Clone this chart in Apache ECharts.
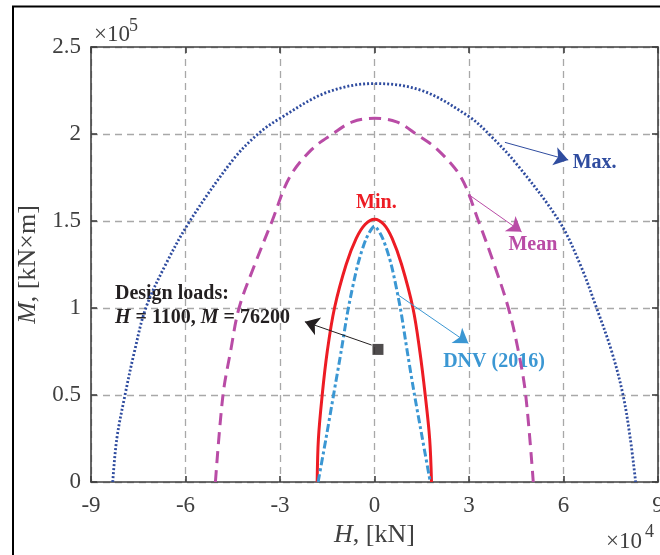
<!DOCTYPE html>
<html>
<head>
    <meta charset="utf-8">
    <title>H-M envelope</title>
    <script src="https://cdn.jsdelivr.net/npm/echarts@6/dist/echarts.min.js"></script>
    <style>
        html, body { margin: 0; padding: 0; background: #fff; }
        #chart { width: 660px; height: 555px; }
    </style>
</head>
<body>
    <div id="chart"></div>
    <script type="text/javascript">
        // values: H in 10^4 kN, M in 10^5 kN*m
        const maxH = [-8.31, -8.18, -7.92, -7.62, -7.26, -6.63, -5.86, -4.5, -3.7, -3.0, -1.5, 0, 1.5, 3.0, 3.63, 4.5, 5.86, 6.53, 7.05, 7.53, 7.89, 8.12, 8.29];
        const maxM = [0, 0.25, 0.5, 0.75, 1.0, 1.25, 1.5, 1.85, 2.0, 2.09, 2.24, 2.29, 2.25, 2.10, 2.0, 1.83, 1.5, 1.25, 1.0, 0.75, 0.5, 0.25, 0];

        const meanH = [-5.05, -4.81, -4.57, -4.3, -3.8, -3.25, -2.7, -2.0, -1.33, -0.7, 0, 0.7, 1.32, 2.0, 2.75, 3.3, 3.8, 4.25, 4.57, 4.8, 5.04];
        const meanM = [0, 0.5, 0.75, 1.0, 1.25, 1.5, 1.75, 1.91, 2.0, 2.07, 2.09, 2.07, 2.0, 1.91, 1.75, 1.5, 1.25, 1.0, 0.75, 0.5, 0];

        const minH = [-1.82, -1.78, -1.66, -1.50, -1.27, -0.90, -0.58, -0.3, 0, 0.3, 0.56, 0.86, 1.22, 1.44, 1.61, 1.75, 1.81];
        const minM = [0, 0.25, 0.5, 0.75, 1.0, 1.25, 1.4, 1.48, 1.51, 1.48, 1.4, 1.25, 1.0, 0.75, 0.5, 0.25, 0];

        const dnvH = [-1.79, -1.54, -1.30, -1.06, -0.83, -0.53, -0.26, 0, 0.26, 0.53, 0.82, 1.04, 1.27, 1.52, 1.77];
        const dnvM = [0, 0.25, 0.5, 0.75, 1.0, 1.25, 1.4, 1.47, 1.4, 1.25, 1.0, 0.75, 0.5, 0.25, 0];

        // design loads H = 1100 kN, M = 76200 kN*m
        const designH = [0.11];
        const designM = [0.762];

        const xTicks = [-9, -6, -3, 0, 3, 6, 9];
        const yTicks = [0, 0.5, 1, 1.5, 2, 2.5];

        const zip = (a, b) => a.map((v, i) => [v, b[i]]);

        const serif = '"Liberation Serif", "Times New Roman", serif';
        const axisColor = '#404040';
        const cMax = '#2f4c9f';
        const cMean = '#b94ca6';
        const cMin = '#ed1c24';
        const cDnv = '#3b97d3';

        const chart = echarts.init(document.getElementById('chart'), null, { renderer: 'canvas' });

        const gridLine = { show: true, lineStyle: { color: '#a8a8a8', width: 1.3, type: [7, 5] } };

        function arrow(color, from, to) {
            return {
                silent: true,
                symbol: ['none', 'arrow'],
                symbolSize: 14,
                label: { show: false },
                lineStyle: { color: color, width: 1, type: 'solid' },
                emphasis: { disabled: true },
                data: [[{ coord: from }, { coord: to }]]
            };
        }

        const valueAxisX = {
            type: 'value',
            min: xTicks[0],
            max: xTicks[xTicks.length - 1],
            interval: 3,
            axisLine: { show: true, onZero: false, lineStyle: { color: axisColor, width: 1.6 } },
            axisTick: { show: true, inside: true, length: 6, lineStyle: { color: axisColor, width: 1.6 } }
        };
        const valueAxisY = {
            type: 'value',
            min: yTicks[0],
            max: yTicks[yTicks.length - 1],
            interval: 0.5,
            axisLine: { show: true, onZero: false, lineStyle: { color: axisColor, width: 1.6 } },
            axisTick: { show: true, inside: true, length: 6, lineStyle: { color: axisColor, width: 1.6 } }
        };

        const option = {
            animation: false,
            backgroundColor: '#fff',
            grid: { left: 91, right: 2, top: 47, bottom: 73, containLabel: false, outerBoundsMode: 'none' },
            xAxis: [
                Object.assign({}, valueAxisX, {
                    position: 'bottom',
                    splitLine: gridLine,
                    axisLabel: { color: axisColor, fontFamily: serif, fontSize: 23, margin: 12 },
                    name: '{i|H}, [kN]',
                    nameLocation: 'middle',
                    nameGap: 40,
                    nameTextStyle: {
                        color: axisColor, fontFamily: serif, fontSize: 26,
                        rich: { i: { fontStyle: 'italic', color: axisColor, fontFamily: serif, fontSize: 26 } }
                    }
                }),
                Object.assign({}, valueAxisX, {
                    position: 'top',
                    splitLine: { show: false },
                    axisLabel: { show: false }
                })
            ],
            yAxis: [
                Object.assign({}, valueAxisY, {
                    position: 'left',
                    splitLine: gridLine,
                    axisLabel: { color: axisColor, fontFamily: serif, fontSize: 23, margin: 10 },
                    name: '{i|M}, [kN×m]',
                    nameLocation: 'middle',
                    nameGap: 34,
                    nameTextStyle: {
                        color: axisColor, fontFamily: serif, fontSize: 26,
                        rich: { i: { fontStyle: 'italic', color: axisColor, fontFamily: serif, fontSize: 26 } }
                    }
                }),
                Object.assign({}, valueAxisY, {
                    position: 'right',
                    splitLine: { show: false },
                    axisLabel: { show: false }
                })
            ],
            series: [
                {
                    name: 'Max.',
                    type: 'line',
                    data: zip(maxH, maxM),
                    smooth: 0.35,
                    showSymbol: false,
                    lineStyle: { color: cMax, width: 2.8, type: [2, 2] },
                    markLine: arrow(cMax, [4.14, 1.952], [6.15, 1.851])
                },
                {
                    name: 'Mean',
                    type: 'line',
                    data: zip(meanH, meanM),
                    smooth: 0.35,
                    showSymbol: false,
                    lineStyle: { color: cMean, width: 3, type: [12, 7] },
                    markLine: arrow(cMean, [2.98, 1.653], [4.67, 1.438])
                },
                {
                    name: 'Min.',
                    type: 'line',
                    data: zip(minH, minM),
                    smooth: 0.35,
                    showSymbol: false,
                    lineStyle: { color: cMin, width: 3 }
                },
                {
                    name: 'DNV (2016)',
                    type: 'line',
                    data: zip(dnvH, dnvM),
                    smooth: 0.25,
                    showSymbol: false,
                    lineStyle: { color: cDnv, width: 3, type: [8, 3, 3, 3] },
                    markLine: arrow(cDnv, [0.75, 1.075], [2.98, 0.797])
                },
                {
                    name: 'Design loads',
                    type: 'scatter',
                    data: zip(designH, designM),
                    symbol: 'rect',
                    symbolSize: 11,
                    itemStyle: { color: '#231f20' },
                    markLine: arrow('#231f20', [-0.09, 0.787], [-2.21, 0.921])
                }
            ]
        };
        chart.setOption(option);

        // annotation texts, anchored in data coordinates
        const px = (x, y) => chart.convertToPixel({ gridIndex: 0 }, [x, y]);
        const boldFont = 'bold 20px ' + serif;
        function label(text, pos, color, align, rich) {
            const p = px(pos[0], pos[1]);
            return {
                type: 'text', x: p[0], y: p[1], silent: true,
                style: { text: text, font: boldFont, fill: color, align: align || 'left', verticalAlign: 'middle', rich: rich }
            };
        }

        chart.setOption({
            graphic: [
                // outer frame of the figure
                { type: 'line', shape: { x1: 12, y1: 6.5, x2: 660, y2: 6.5 }, style: { stroke: '#000', lineWidth: 2 } },
                { type: 'line', shape: { x1: 13, y1: 6, x2: 13, y2: 555 }, style: { stroke: '#000', lineWidth: 2 } },
                // axis multipliers
                { type: 'text', x: 94, y: 35, style: { text: '×10', font: '23px ' + serif, fill: axisColor, verticalAlign: 'middle' } },
                { type: 'text', x: 129, y: 26, style: { text: '5', font: '18px ' + serif, fill: axisColor, verticalAlign: 'middle' } },
                { type: 'text', x: 606, y: 542, style: { text: '×10', font: '23px ' + serif, fill: axisColor, verticalAlign: 'middle' } },
                { type: 'text', x: 645, y: 532, style: { text: '4', font: '18px ' + serif, fill: axisColor, verticalAlign: 'middle' } },
                label('Max.', [6.29, 1.833], cMax),
                label('Mean', [4.25, 1.362], cMean),
                label('Min.', [0.06, 1.603], cMin, 'center'),
                label('DNV (2016)', [2.18, 0.691], cDnv),
                label('Design loads:', [-8.24, 1.080], '#231f20'),
                label('{i|H} = 1100, {i|M} = 76200', [-8.24, 0.941], '#231f20', 'left', {
                    i: { fontStyle: 'italic', fontWeight: 'bold', fontSize: 20, fontFamily: serif, fill: '#231f20', color: '#231f20' }
                })
            ]
        });
    </script>
</body>
</html>
